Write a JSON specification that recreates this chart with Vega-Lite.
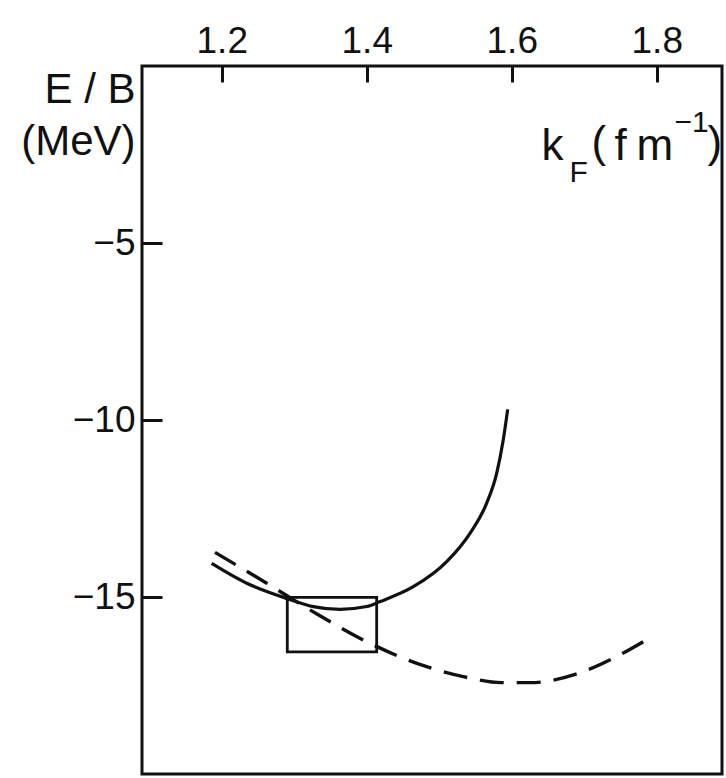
{
  "$schema": "https://vega.github.io/schema/vega-lite/v6.json",
  "width": 580,
  "height": 708,
  "autosize": {"type": "none"},
  "padding": {"left": 142, "top": 66, "right": 4, "bottom": 4},
  "background": "white",
  "config": {
    "view": {"stroke": "#111111", "strokeWidth": 3},
    "font": "Liberation Sans"
  },
  "datasets": {
    "curves": [
      {"series": "solid", "k": 1.1861, "E": -14.05},
      {"series": "solid", "k": 1.2344, "E": -14.61},
      {"series": "solid", "k": 1.2896, "E": -15.04},
      {"series": "solid", "k": 1.3263, "E": -15.27},
      {"series": "solid", "k": 1.3631, "E": -15.35},
      {"series": "solid", "k": 1.3999, "E": -15.27},
      {"series": "solid", "k": 1.4183, "E": -15.13},
      {"series": "solid", "k": 1.4642, "E": -14.71},
      {"series": "solid", "k": 1.5103, "E": -14.0},
      {"series": "solid", "k": 1.5424, "E": -13.2},
      {"series": "solid", "k": 1.5654, "E": -12.35},
      {"series": "solid", "k": 1.5792, "E": -11.51},
      {"series": "solid", "k": 1.5883, "E": -10.56},
      {"series": "solid", "k": 1.5944, "E": -9.7},
      {"series": "dashed", "k": 1.1907, "E": -13.74},
      {"series": "dashed", "k": 1.262, "E": -14.61},
      {"series": "dashed", "k": 1.3263, "E": -15.42},
      {"series": "dashed", "k": 1.4045, "E": -16.31},
      {"series": "dashed", "k": 1.4827, "E": -16.97},
      {"series": "dashed", "k": 1.5332, "E": -17.25},
      {"series": "dashed", "k": 1.5861, "E": -17.42},
      {"series": "dashed", "k": 1.6252, "E": -17.42},
      {"series": "dashed", "k": 1.6941, "E": -17.14},
      {"series": "dashed", "k": 1.74, "E": -16.73},
      {"series": "dashed", "k": 1.7915, "E": -16.14}
    ],
    "saturation": [
      {"k": 1.2904, "k2": 1.4137, "E": -15.01, "E2": -16.55}
    ],
    "kLabel": [
      {"k": 1.641, "E": -2.655}
    ]
  },
  "encoding": {
    "x": {
      "field": "k",
      "type": "quantitative",
      "scale": {"domain": [1.09, 1.89], "nice": false, "zero": false},
      "axis": {
        "orient": "top",
        "values": [1.2, 1.4, 1.6, 1.8],
        "format": ".1f",
        "title": null,
        "domain": false,
        "grid": false,
        "ticks": true,
        "tickSize": -16,
        "tickWidth": 3,
        "tickColor": "#111111",
        "tickOpacity": 1,
        "labelPadding": 30,
        "labelBaseline": "alphabetic",
        "labelFont": "Liberation Sans",
        "labelFontSize": 37,
        "labelColor": "#111111"
      }
    },
    "y": {
      "field": "E",
      "type": "quantitative",
      "scale": {"domain": [-20, 0], "nice": false, "zero": false},
      "axis": {
        "values": [-5, -10, -15],
        "format": "d",
        "domain": false,
        "grid": false,
        "ticks": true,
        "tickSize": -20,
        "tickWidth": 3,
        "tickColor": "#111111",
        "labelPadding": 27,
        "labelFont": "Liberation Sans",
        "labelFontSize": 37,
        "labelColor": "#111111",
        "title": ["E / B", "(MeV)"],
        "titleAngle": 0,
        "titleAlign": "right",
        "titleBaseline": "alphabetic",
        "titleX": -7,
        "titleY": 36,
        "titleLineHeight": 52,
        "titleFont": "Liberation Sans",
        "titleFontSize": 42,
        "titleFontWeight": "normal",
        "titleColor": "#111111"
      }
    }
  },
  "layer": [
    {
      "data": {"name": "curves"},
      "transform": [{"filter": "datum.series === 'solid'"}],
      "mark": {"type": "line", "interpolate": "monotone", "color": "#111111", "strokeWidth": 3.2}
    },
    {
      "data": {"name": "curves"},
      "transform": [{"filter": "datum.series === 'dashed'"}],
      "mark": {"type": "line", "interpolate": "monotone", "color": "#111111", "strokeWidth": 3.4, "strokeDash": [24, 13]}
    },
    {
      "data": {"name": "saturation"},
      "mark": {"type": "rect", "filled": false, "stroke": "#111111", "strokeWidth": 2.8},
      "encoding": {
        "x2": {"field": "k2"},
        "y2": {"field": "E2"}
      }
    },
    {
      "data": {"name": "kLabel"},
      "mark": {"type": "text", "text": "k", "align": "left", "baseline": "alphabetic", "fontSize": 44, "color": "#111111"}
    },
    {
      "data": {"name": "kLabel"},
      "mark": {"type": "text", "text": "F", "align": "left", "baseline": "alphabetic", "fontSize": 30, "dx": 28, "dy": 22, "color": "#111111"}
    },
    {
      "data": {"name": "kLabel"},
      "mark": {"type": "text", "text": "(", "align": "left", "baseline": "alphabetic", "fontSize": 44, "dx": 50, "dy": -3, "color": "#111111"}
    },
    {
      "data": {"name": "kLabel"},
      "mark": {"type": "text", "text": "f", "align": "left", "baseline": "alphabetic", "fontSize": 44, "dx": 73, "color": "#111111"}
    },
    {
      "data": {"name": "kLabel"},
      "mark": {"type": "text", "text": "m", "align": "left", "baseline": "alphabetic", "fontSize": 44, "dx": 95, "color": "#111111"}
    },
    {
      "data": {"name": "kLabel"},
      "mark": {"type": "text", "text": "−1", "align": "left", "baseline": "alphabetic", "fontSize": 30, "dx": 133, "dy": -28, "color": "#111111"}
    },
    {
      "data": {"name": "kLabel"},
      "mark": {"type": "text", "text": ")", "align": "left", "baseline": "alphabetic", "fontSize": 44, "dx": 166, "dy": -3, "color": "#111111"}
    }
  ]
}
